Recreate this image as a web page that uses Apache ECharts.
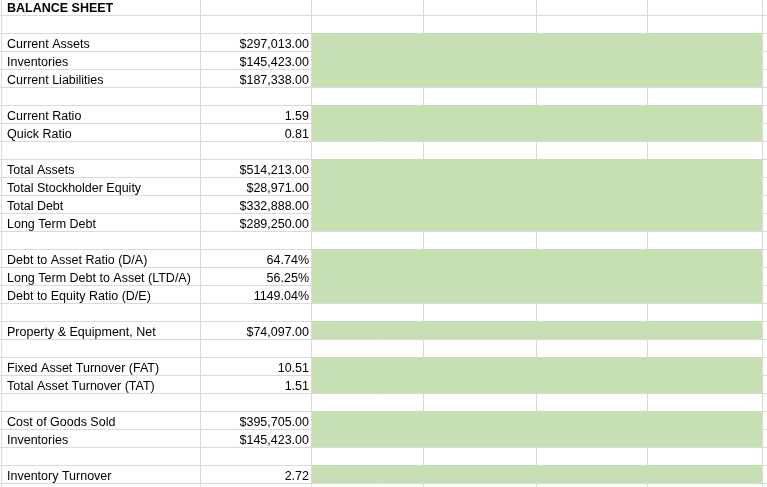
<!DOCTYPE html>
<html><head><meta charset="utf-8">
<script src="https://cdn.jsdelivr.net/npm/echarts@6/dist/echarts.min.js"></script>
<style>html,body{margin:0;padding:0;background:#fff}#c{width:767px;height:487px}</style>
</head><body><div id="c"></div>
<script>
// ---- data ----
const rowLabels = [
  'BALANCE SHEET', '',
  'Current Assets', 'Inventories', 'Current Liabilities', '',
  'Current Ratio', 'Quick Ratio', '',
  'Total Assets', 'Total Stockholder Equity', 'Total Debt', 'Long Term Debt', '',
  'Debt to Asset Ratio (D/A)', 'Long Term Debt to Asset (LTD/A)', 'Debt to Equity Ratio (D/E)', '',
  'Property & Equipment, Net', '',
  'Fixed Asset Turnover (FAT)', 'Total Asset Turnover (TAT)', '',
  'Cost of Goods Sold', 'Inventories', '',
  'Inventory Turnover', ''
];
const rowValues = [
  '', '',
  '$297,013.00', '$145,423.00', '$187,338.00', '',
  '1.59', '0.81', '',
  '$514,213.00', '$28,971.00', '$332,888.00', '$289,250.00', '',
  '64.74%', '56.25%', '1149.04%', '',
  '$74,097.00', '',
  '10.51', '1.51', '',
  '$395,705.00', '$145,423.00', '',
  '2.72', ''
];

// ---- layout (sheet geometry, not data) ----
const COL_EDGES = [2, 201, 312, 424, 537, 648, 763]; // column boundaries on the x scale
const ROW_COUNT = 29;
const FONT = '12.5px "Liberation Sans", Arial, sans-serif';
const FONT_BOLD = 'bold 12.5px "Liberation Sans", Arial, sans-serif';
const GRID_COLOR = '#DADADA';
const GREEN = '#C6E0B4';

const crisp = v => Math.round(v) + 0.5;

const hLineData = [];
for (let r = 0; r <= ROW_COUNT; r++) hLineData.push([0, r]);
const vLineData = COL_EDGES.map((e, i) => [e, i]);
const greenData = [];
rowValues.forEach((v, r) => { if (v !== '') greenData.push([COL_EDGES[2], r]); });
const labelData = rowLabels.map((t, r) => [COL_EDGES[0], r]);
const valueData = rowValues.map((t, r) => [COL_EDGES[2], r]);

const chart = echarts.init(document.getElementById('c'), null, {renderer: 'canvas'});
chart.setOption({
  animation: false,
  backgroundColor: '#ffffff',
  grid: {left: 0, right: 0, top: 0, bottom: 0},
  xAxis: {type: 'value', min: 0, max: 767, show: false},
  yAxis: {type: 'value', inverse: true, min: 2 / 18, max: 489 / 18, show: false},
  series: [
    {
      type: 'custom', silent: true, clip: false, data: hLineData,
      renderItem: (params, api) => {
        const y = crisp(api.coord([0, api.value(1)])[1]) - 1;
        const x1 = api.coord([0, 0])[0], x2 = api.coord([767, 0])[0];
        return {type: 'line', shape: {x1, y1: y, x2, y2: y}, style: {stroke: GRID_COLOR, lineWidth: 1}};
      }
    },
    {
      type: 'custom', silent: true, clip: false, data: vLineData,
      renderItem: (params, api) => {
        const x = crisp(api.coord([api.value(0), 0])[0]) - 1;
        const y1 = api.coord([0, 0])[1], y2 = api.coord([0, ROW_COUNT])[1];
        return {type: 'line', shape: {x1: x, y1, x2: x, y2}, style: {stroke: GRID_COLOR, lineWidth: 1}};
      }
    },
    {
      type: 'custom', silent: true, clip: false, data: greenData,
      renderItem: (params, api) => {
        const r = api.value(1);
        const p0 = api.coord([COL_EDGES[2], r]);
        const p1 = api.coord([COL_EDGES[6], r + 1]);
        const x0 = Math.round(p0[0]), y0 = Math.round(p0[1]) - 1;
        const x1 = Math.round(p1[0]) - 1, y1 = Math.round(p1[1]) - 1;
        return {type: 'rect', shape: {x: x0, y: y0, width: x1 - x0, height: y1 - y0}, style: {fill: GREEN}};
      }
    },
    {
      type: 'custom', silent: true, clip: false, data: labelData,
      renderItem: (params, api) => {
        const r = api.value(1);
        const t = rowLabels[r];
        if (!t) return null;
        const p = api.coord([COL_EDGES[0], r + 0.5]);
        return {type: 'text', x: p[0] + 5, y: p[1] + 1.5,
          style: {text: t, font: r === 0 ? FONT_BOLD : FONT, fill: '#000', align: 'left', verticalAlign: 'middle'}};
      }
    },
    {
      type: 'custom', silent: true, clip: false, data: valueData,
      renderItem: (params, api) => {
        const r = api.value(1);
        const t = rowValues[r];
        if (!t) return null;
        const p = api.coord([COL_EDGES[2], r + 0.5]);
        return {type: 'text', x: p[0] - 3, y: p[1] + 1.5,
          style: {text: t, font: FONT, fill: '#000', align: 'right', verticalAlign: 'middle'}};
      }
    }
  ]
});
</script>
</body></html>
